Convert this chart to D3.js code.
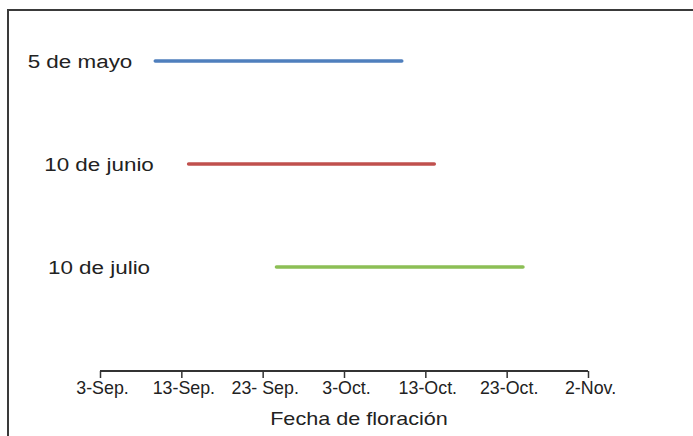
<!DOCTYPE html>
<html><head><meta charset="utf-8">
<script src="https://cdn.jsdelivr.net/npm/d3@7"></script>
<style>
html,body{margin:0;padding:0;background:#fff;}
svg{display:block;}
text{font-family:"Liberation Sans",Arial,sans-serif;fill:#222;}
</style></head>
<body>
<svg id="chart" width="693" height="436"></svg>
<script>
// Data
const categories = ["5 de mayo", "10 de junio", "10 de julio"];
const startDays = [6.8, 10.9, 21.7];   // days after 3-Sep
const endDays   = [37.1, 41.1, 52.0];
const colors = ["#4f7fbd", "#c0504d", "#8cbf55"];
const tickValues = [0, 10, 20, 30, 40, 50, 60];
const tickLabels = ["3-Sep.", "13-Sep.", "23- Sep.", "3-Oct.", "13-Oct.", "23-Oct.", "2-Nov."];
const xTitle = "Fecha de floración";

const svg = d3.select("#chart");

// frame
svg.append("path").attr("d", "M8,436 V10 H693")
  .attr("fill", "none").attr("stroke", "#3a3a3a").attr("stroke-width", 2);

const x = d3.scaleLinear().domain([0, 60]).range([100, 588]);
const y = d3.scalePoint().domain(categories).range([61, 267]);

// axis
const axis = d3.axisBottom(x).tickValues(tickValues).tickSize(7).tickFormat((d, i) => tickLabels[i]);
const ag = svg.append("g").attr("transform", "translate(0,371)").call(axis);
ag.select(".domain").attr("stroke", "#333").attr("stroke-width", 2).attr("d", "M100,0H588");
ag.selectAll(".tick line").attr("stroke", "#333").attr("stroke-width", 1.5);
ag.selectAll(".tick text").attr("font-size", 18).attr("fill", "#222")
  .attr("font-family", "Liberation Sans, Arial, sans-serif")
  .attr("y", 0).attr("dy", 0).attr("x", 0)
  .attr("transform", "translate(2,23) scale(0.99,1)");

// title
svg.append("text").attr("transform", "translate(359,425) scale(1.2,1)")
  .attr("text-anchor", "middle").attr("font-size", 18).text(xTitle);

// bars (lines)
const rows = categories.map((c, i) => ({c, s: startDays[i], e: endDays[i], col: colors[i]}));
svg.append("g").selectAll("line").data(rows).join("line")
  .attr("x1", d => x(d.s)).attr("x2", d => x(d.e))
  .attr("y1", d => y(d.c)).attr("y2", d => y(d.c))
  .attr("stroke", d => d.col).attr("stroke-width", 3.6).attr("stroke-linecap", "round");

// category labels (layout centers)
const labelCenters = [80, 99, 99];
svg.append("g").selectAll("text").data(rows).join("text")
  .attr("transform", (d, i) => "translate(" + labelCenters[i] + "," + (y(d.c) + 7) + ") scale(1.18,1)")
  .attr("text-anchor", "middle").attr("font-size", 19).text(d => d.c);
</script>
</body></html>
